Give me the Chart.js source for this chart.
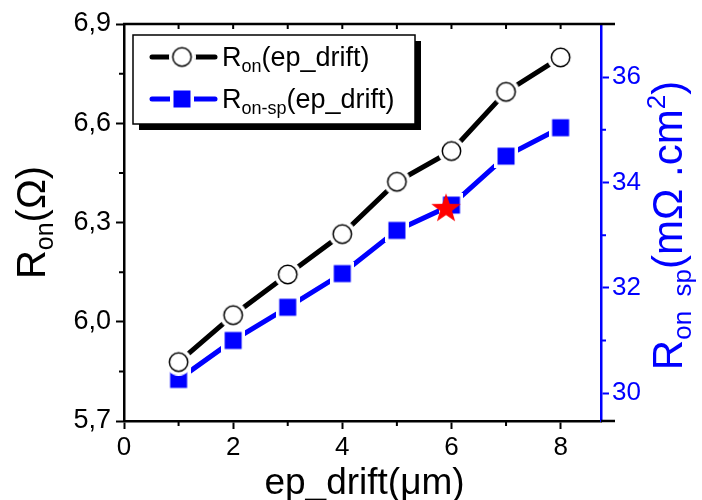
<!DOCTYPE html>
<html>
<head>
<meta charset="utf-8">
<script src="https://cdn.jsdelivr.net/npm/chart.js@4.4.1/dist/chart.umd.min.js"></script>
<style>
html, body { margin: 0; padding: 0; background: #fff; }
canvas { display: block; }
</style>
</head>
<body>
<canvas id="chart" width="702" height="500"></canvas>
<script>
// Data
const epDrift = [1, 2, 3, 4, 5, 6, 7, 8];
const ron = [5.878, 6.020, 6.143, 6.265, 6.423, 6.516, 6.695, 6.799];
const ronSp = [30.26, 31.00, 31.63, 32.27, 33.09, 33.57, 34.50, 35.04];
const starX = [5.9];
const starY = [33.52];

// minor tick positions (axis units)
const xMinor = [1, 3, 5, 7];
const xTop = [1, 2, 3, 4, 5, 6, 7, 8];
const yMinor = [5.85, 6.15, 6.45, 6.75];
const y2Minor = [31, 33, 35];

const FONT = '"Liberation Sans", Arial, sans-serif';
const BLUE = '#0000ff';

// marker images (white halo gives the gap between line and marker)
function circleMarker() {
    const c = document.createElement('canvas');
    c.width = c.height = 27;
    const g = c.getContext('2d');
    g.fillStyle = '#fff';
    g.beginPath(); g.arc(13.5, 13.5, 13.5, 0, Math.PI * 2); g.fill();
    g.beginPath(); g.arc(13.5, 13.5, 9.2, 0, Math.PI * 2);
    g.fill();
    g.lineWidth = 1.5; g.strokeStyle = '#000'; g.stroke();
    return c;
}
function squareMarker() {
    const c = document.createElement('canvas');
    c.width = c.height = 24;
    const g = c.getContext('2d');
    g.fillStyle = '#fff'; g.fillRect(0, 0, 24, 24);
    g.fillStyle = BLUE; g.fillRect(3.5, 3.5, 17, 17);
    return c;
}
function starMarker() {
    const c = document.createElement('canvas');
    c.width = c.height = 32;
    const g = c.getContext('2d');
    g.fillStyle = '#ff0000';
    g.beginPath();
    for (let i = 0; i < 10; i++) {
        const r = i % 2 === 0 ? 15.5 : 6.3;
        const a = -Math.PI / 2 + i * Math.PI / 5;
        const px = 16 + r * Math.cos(a), py = 17 + r * Math.sin(a);
        if (i === 0) g.moveTo(px, py); else g.lineTo(px, py);
    }
    g.closePath(); g.fill();
    return c;
}
const circleImg = circleMarker();
const squareImg = squareMarker();
const starImg = starMarker();

// text with sub/superscripts
function richWidth(ctx, parts) {
    let w = 0;
    for (const p of parts) { ctx.font = p.size + 'px ' + FONT; w += ctx.measureText(p.t).width; }
    return w;
}
function richText(ctx, parts, x, y, rot, color, align) {
    ctx.save();
    ctx.translate(x, y);
    ctx.rotate(rot);
    ctx.fillStyle = color;
    ctx.textBaseline = 'alphabetic';
    ctx.textAlign = 'left';
    let cx = align === 'center' ? -richWidth(ctx, parts) / 2 : 0;
    for (const p of parts) {
        ctx.font = p.size + 'px ' + FONT;
        ctx.fillText(p.t, cx, p.dy || 0);
        cx += ctx.measureText(p.t).width;
    }
    ctx.restore();
}

const decorations = {
    id: 'decorations',
    afterDraw(chart) {
        const { ctx, chartArea: a, scales } = chart;
        const sx = scales.x, sy = scales.y, sy2 = scales.y2;
        ctx.save();
        // top frame + extensions past right axis
        ctx.strokeStyle = '#000';
        ctx.lineWidth = 2.5;
        ctx.beginPath();
        ctx.moveTo(a.left - 1, a.top); ctx.lineTo(615, a.top);
        ctx.moveTo(a.right, a.bottom); ctx.lineTo(615, a.bottom);
        ctx.stroke();
        // minor ticks
        ctx.lineWidth = 2;
        ctx.beginPath();
        xMinor.forEach(v => { const p = sx.getPixelForValue(v); ctx.moveTo(p, a.bottom); ctx.lineTo(p, a.bottom + 5); });
        xTop.forEach(v => { const p = sx.getPixelForValue(v); ctx.moveTo(p, a.top); ctx.lineTo(p, a.top + 5); });
        yMinor.forEach(v => { const p = sy.getPixelForValue(v); ctx.moveTo(a.left, p); ctx.lineTo(a.left - 5, p); });
        ctx.stroke();
        ctx.strokeStyle = BLUE;
        ctx.beginPath();
        y2Minor.forEach(v => { const p = sy2.getPixelForValue(v); ctx.moveTo(a.right, p); ctx.lineTo(a.right + 5, p); });
        ctx.stroke();

        // axis titles
        richText(ctx, [{ t: 'ep_drift(\u03bcm)', size: 37 }], (a.left + a.right) / 2 + 2, 494, 0, '#000', 'center');
        richText(ctx, [
            { t: 'R', size: 40 },
            { t: 'on', size: 25, dy: 8 },
            { t: '(\u03a9)', size: 40 }
        ], 45, (a.top + a.bottom) / 2, -Math.PI / 2, '#000', 'center');
        richText(ctx, [
            { t: 'R', size: 42 },
            { t: 'on  sp', size: 26, dy: 9 },
            { t: '(m\u03a9 .cm', size: 42 },
            { t: '2', size: 26, dy: -17 },
            { t: ')', size: 42 }
        ], 682, (a.top + a.bottom) / 2 + 3, -Math.PI / 2, BLUE, 'center');

        // legend
        const lx = 133, ly = 35, lw = 282, lh = 89;
        ctx.fillStyle = '#000';
        ctx.fillRect(lx + 6, ly + 6, lw, lh);
        ctx.fillStyle = '#fff';
        ctx.fillRect(lx, ly, lw, lh);
        ctx.lineWidth = 1.5;
        ctx.strokeStyle = '#000';
        ctx.strokeRect(lx, ly, lw, lh);
        const rows = [
            { y: 57, color: '#000', img: circleImg, sub: 'on' },
            { y: 99, color: BLUE, img: squareImg, sub: 'on-sp' }
        ];
        rows.forEach(r => {
            ctx.strokeStyle = r.color;
            ctx.lineWidth = 5;
            ctx.lineCap = 'round';
            ctx.beginPath(); ctx.moveTo(152, r.y); ctx.lineTo(215, r.y); ctx.stroke();
            ctx.drawImage(r.img, 182 - r.img.width / 2, r.y - r.img.height / 2);
            richText(ctx, [
                { t: 'R', size: 27 },
                { t: r.sub, size: 18, dy: 6 },
                { t: '(ep_drift)', size: 27 }
            ], 222, r.y + 9, 0, '#000', 'left');
        });
        ctx.restore();
    }
};

const commaFmt = v => v.toFixed(1).replace('.', ',');

new Chart(document.getElementById('chart'), {
    type: 'line',
    data: {
        datasets: [
            {
                label: 'star',
                data: starX.map((x, i) => ({ x, y: starY[i] })),
                yAxisID: 'y2',
                showLine: false,
                pointStyle: starImg,
                pointRadius: 10,
                order: 0
            },
            {
                label: 'Ron(ep_drift)',
                data: epDrift.map((x, i) => ({ x, y: ron[i] })),
                yAxisID: 'y',
                borderColor: '#000',
                borderWidth: 5,
                pointStyle: circleImg,
                pointRadius: 10,
                tension: 0,
                order: 1
            },
            {
                label: 'Ron-sp(ep_drift)',
                data: epDrift.map((x, i) => ({ x, y: ronSp[i] })),
                yAxisID: 'y2',
                borderColor: BLUE,
                borderWidth: 5,
                pointStyle: squareImg,
                pointRadius: 10,
                tension: 0,
                order: 2
            }
        ]
    },
    options: {
        responsive: false,
        animation: false,
        devicePixelRatio: 1,
        layout: { padding: { top: 24, left: 0, right: 0, bottom: 0 } },
        plugins: { legend: { display: false }, tooltip: { enabled: false } },
        scales: {
            x: {
                type: 'linear',
                min: 0,
                max: 8.74,
                afterFit(s) { s.height = 79; },
                border: { color: '#000', width: 2.5 },
                grid: { drawOnChartArea: false, color: '#000', tickLength: 8, tickWidth: 2 },
                ticks: { stepSize: 2, includeBounds: false, padding: 3, color: '#000', font: { family: FONT, size: 26 } }
            },
            y: {
                position: 'left',
                min: 5.7,
                max: 6.9,
                afterFit(s) { s.width = 124; },
                border: { color: '#000', width: 2.5 },
                grid: { drawOnChartArea: false, color: '#000', tickLength: 8, tickWidth: 2 },
                ticks: { stepSize: 0.3, padding: 5, color: '#000', font: { family: FONT, size: 27 }, callback: commaFmt }
            },
            y2: {
                position: 'right',
                min: 29.47,
                max: 37.01,
                afterFit(s) { s.width = 101; },
                border: { color: BLUE, width: 2.5 },
                grid: { drawOnChartArea: false, color: BLUE, tickLength: 8, tickWidth: 2 },
                ticks: { stepSize: 2, includeBounds: false, padding: 3, color: BLUE, font: { family: FONT, size: 26 } }
            }
        }
    },
    plugins: [decorations]
});
</script>
</body>
</html>
